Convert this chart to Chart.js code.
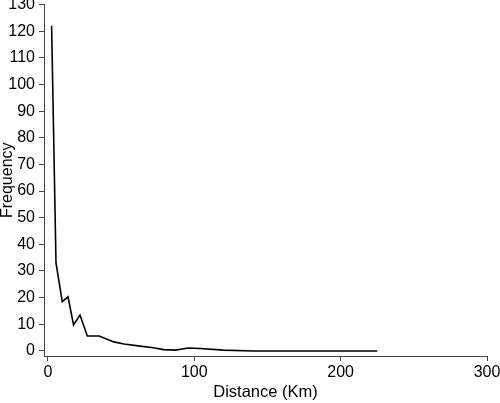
<!DOCTYPE html>
<html>
<head>
<meta charset="utf-8">
<script src="https://cdn.jsdelivr.net/npm/chart.js@4"></script>
<style>
	html, body { margin: 0; padding: 0; background: #fff; }
	#wrap { width: 500px; height: 403px; }
</style>
</head>
<body>
<div id="wrap"><canvas id="freq"></canvas></div>
<script>
/* Data */
var distance = [2.5, 5.5, 9.8, 13.7, 17.5, 21.9, 26.9, 35, 45, 52, 63, 72, 79, 87, 96, 104, 120, 140, 225];
var frequency = [122, 33, 18.5, 20.3, 9.8, 13.5, 5.6, 5.6, 3.4, 2.6, 1.8, 1.2, 0.5, 0.3, 1.1, 0.9, 0.3, 0, 0];
var xTicks = [0, 100, 200, 300];
var yTicks = [0, 10, 20, 30, 40, 50, 60, 70, 80, 90, 100, 110, 120, 130];

var points = distance.map(function (d, i) {
	return { x: d, y: frequency[i] };
});

Chart.defaults.font.family = "'Liberation Sans', Arial, sans-serif";
Chart.defaults.color = "#000";

function keepTicks(list) {
	return function (axis) {
		axis.ticks = list.map(function (v) { return { value: v }; });
	};
}

// fixed axis sizes, the axes sit a little apart like the original
function fixWidth(w) {
	return function (axis) {
		axis.width = w;
		axis.paddingTop = 0;
		axis.paddingBottom = 0;
	};
}
function fixHeight(h) {
	return function (axis) {
		axis.height = h;
		axis.paddingLeft = 0;
		axis.paddingRight = 0;
	};
}

var ctxFreq = document.getElementById("freq");

var freqLine = new Chart(ctxFreq, {
	type: "line",
	data: {
		datasets: [
			{
				data: points,
				borderColor: "#000",
				borderWidth: 1.6,
				pointRadius: 0,
				tension: 0,
				fill: false,
			},
		],
	},
	options: {
		responsive: true,
		maintainAspectRatio: false,
		animation: false,
		layout: { padding: { top: 4.5, right: 13, left: 0, bottom: 0 } },
		plugins: { legend: { display: false }, tooltip: { enabled: false } },
		scales: {
			x: {
				type: "linear",
				min: -2.7,
				max: 300,
				afterBuildTicks: keepTicks(xTicks),
				afterFit: fixHeight(47),
				grid: { display: true, drawOnChartArea: false, drawTicks: true, tickLength: 5, color: "#444" },
				border: { display: true, color: "#444", width: 1 },
				ticks: { font: { size: 16 }, padding: 2, maxRotation: 0 },
				title: { display: true, text: "Distance (Km)", font: { size: 16.5 }, padding: { top: 0, bottom: 1 } },
			},
			y: {
				type: "linear",
				min: -1.9,
				max: 130,
				afterBuildTicks: keepTicks(yTicks),
				afterFit: fixWidth(44),
				grid: { display: true, drawOnChartArea: false, drawTicks: true, tickLength: 5, color: "#444" },
				border: { display: true, color: "#444", width: 1 },
				ticks: { font: { size: 16 }, padding: 4 },
				title: { display: true, text: "Frequency", font: { size: 16 }, padding: { top: -2, bottom: 0 } },
			},
		},
	},
});
</script>
</body>
</html>
